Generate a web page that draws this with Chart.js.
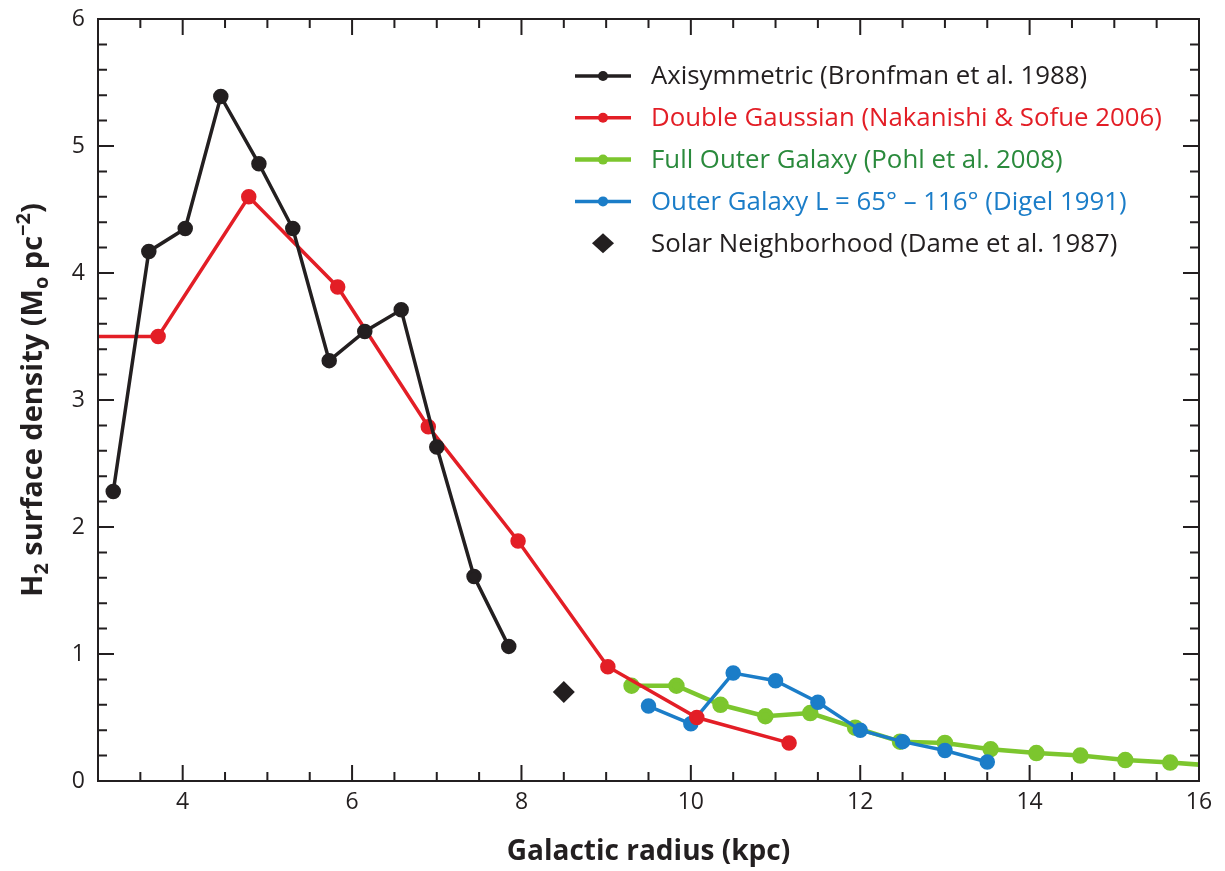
<!DOCTYPE html>
<html>
<head>
<meta charset="utf-8">
<script src="https://cdn.jsdelivr.net/npm/chart.js@4.4.1/dist/chart.umd.min.js"></script>
<style>
  html, body { margin: 0; padding: 0; background: #fff; }
  #wrap { width: 1225px; height: 871px; }
</style>
</head>
<body>
<div id="wrap"><canvas id="h2Chart" width="1225" height="871"></canvas></div>
<script>
// values: galactic radius (kpc) vs H2 surface density (Msun pc^-2)
const axiR = [3.18, 3.60, 4.03, 4.45, 4.90, 5.30, 5.73, 6.15, 6.58, 7.00, 7.44, 7.85];
const axiSigma = [2.28, 4.17, 4.35, 5.39, 4.86, 4.35, 3.31, 3.54, 3.71, 2.63, 1.61, 1.06];

const gaussR = [2.65, 3.71, 4.78, 5.83, 6.90, 7.96, 9.02, 10.07, 11.16];
const gaussSigma = [3.50, 3.50, 4.60, 3.89, 2.79, 1.89, 0.90, 0.50, 0.30];

const pohlR = [9.30, 9.83, 10.35, 10.88, 11.41, 11.94, 12.47, 13.00, 13.54, 14.08, 14.60, 15.13, 15.66, 16.19];
const pohlSigma = [0.75, 0.75, 0.60, 0.51, 0.535, 0.42, 0.31, 0.30, 0.25, 0.22, 0.20, 0.165, 0.145, 0.12];

const digelR = [9.5, 10.0, 10.5, 11.0, 11.5, 12.0, 12.5, 13.0, 13.5];
const digelSigma = [0.59, 0.45, 0.85, 0.79, 0.62, 0.40, 0.31, 0.24, 0.15];

const solarR = [8.5];
const solarSigma = [0.70];

const xTickLabels = [4, 6, 8, 10, 12, 14, 16];
const yTickLabels = [0, 1, 2, 3, 4, 5, 6];

const seriesNames = [
  'Axisymmetric (Bronfman et al. 1988)',
  'Double Gaussian (Nakanishi & Sofue 2006)',
  'Full Outer Galaxy (Pohl et al. 2008)',
  'Outer Galaxy L = 65\u00b0 \u2013 116\u00b0 (Digel 1991)',
  'Solar Neighborhood (Dame et al. 1987)'
];
const lineColors = ['#231f20', '#e31e26', '#7cc62e', '#1b7dc8', '#231f20'];
const textColors = ['#231f20', '#e31e26', '#2a8a3c', '#1b7dc8', '#231f20'];

const FONT = '"Open Sans", "Noto Sans", sans-serif';
const INK = '#231f20';

function toXY(xs, ys) {
  return xs.map((x, i) => ({ x: x, y: ys[i] }));
}

// frame + inward ticks on all four sides, like the printed figure
const frameTicks = {
  id: 'frameTicks',
  afterDatasetsDraw(chart) {
    const { ctx, chartArea: a, scales: { x, y } } = chart;
    ctx.save();
    ctx.strokeStyle = INK;
    ctx.lineWidth = 2;
    ctx.strokeRect(a.left, a.top, a.right - a.left, a.bottom - a.top);
    ctx.beginPath();
    for (let v = x.min; v <= x.max + 1e-6; v += 0.5) {
      const px = x.getPixelForValue(v);
      const len = (Math.abs(v % 2) < 1e-6) ? 16 : 9;
      ctx.moveTo(px, a.bottom); ctx.lineTo(px, a.bottom - len);
      ctx.moveTo(px, a.top); ctx.lineTo(px, a.top + len);
    }
    for (let v = y.min; v <= y.max + 1e-6; v += 0.2) {
      const py = y.getPixelForValue(v);
      const len = (Math.abs(v - Math.round(v)) < 1e-6) ? 16 : 9;
      ctx.moveTo(a.left, py); ctx.lineTo(a.left + len, py);
      ctx.moveTo(a.right, py); ctx.lineTo(a.right - len, py);
    }
    ctx.stroke();
    ctx.restore();
  }
};

// legend inside the plot, top right
const insideLegend = {
  id: 'insideLegend',
  afterDraw(chart) {
    const ctx = chart.ctx;
    const x0 = 575, x1 = 631, tx = 651, top = 76, step = 41.8;
    ctx.save();
    ctx.font = '25.8px ' + FONT;
    ctx.textBaseline = 'middle';
    seriesNames.forEach((name, i) => {
      const yy = top + i * step;
      const cx = (x0 + x1) / 2;
      if (i < 4) {
        ctx.strokeStyle = lineColors[i];
        ctx.lineWidth = i === 2 ? 4.5 : 3.5;
        ctx.beginPath(); ctx.moveTo(x0, yy); ctx.lineTo(x1, yy); ctx.stroke();
        ctx.fillStyle = lineColors[i];
        ctx.beginPath(); ctx.arc(cx, yy, 5, 0, Math.PI * 2); ctx.fill();
      } else {
        ctx.fillStyle = lineColors[i];
        ctx.beginPath();
        ctx.moveTo(cx, yy - 10); ctx.lineTo(cx + 11, yy); ctx.lineTo(cx, yy + 10); ctx.lineTo(cx - 11, yy);
        ctx.closePath(); ctx.fill();
      }
      ctx.fillStyle = textColors[i];
      ctx.fillText(name, tx, yy + 1);
    });
    ctx.restore();
  }
};

// rotated y title with sub/superscripts
const yTitle = {
  id: 'yTitle',
  afterDraw(chart) {
    const ctx = chart.ctx;
    const a = chart.chartArea;
    const parts = [
      ['H', 0], ['2', 1], [' surface density (M', 0], ['o', 1], [' pc', 0], ['\u22122', -1], [')', 0]
    ];
    const big = 'bold 29px ' + FONT, small = 'bold 20px ' + FONT;
    ctx.save();
    let total = 0;
    parts.forEach(p => { ctx.font = p[1] ? small : big; total += ctx.measureText(p[0]).width; });
    ctx.translate(42, (a.top + a.bottom) / 2);
    ctx.rotate(-Math.PI / 2);
    ctx.fillStyle = INK;
    ctx.textBaseline = 'alphabetic';
    let cur = -total / 2;
    parts.forEach(p => {
      ctx.font = p[1] ? small : big;
      const dy = p[1] === 1 ? 6 : (p[1] === -1 ? -12 : 0);
      ctx.fillText(p[0], cur, dy);
      cur += ctx.measureText(p[0]).width;
    });
    ctx.restore();
  }
};

const ctx = document.getElementById('h2Chart').getContext('2d');
const h2Chart = new Chart(ctx, {
  type: 'scatter',
  data: {
    datasets: [
      {
        label: seriesNames[0],
        data: toXY(axiR, axiSigma),
        showLine: true,
        borderColor: lineColors[0],
        backgroundColor: lineColors[0],
        borderWidth: 3.5,
        pointRadius: 6,
        order: 1
      },
      {
        label: seriesNames[1],
        data: toXY(gaussR, gaussSigma),
        showLine: true,
        borderColor: lineColors[1],
        backgroundColor: lineColors[1],
        borderWidth: 3.5,
        pointRadius: gaussR.map(r => r < 3 ? 0 : 6),
        order: 2
      },
      {
        label: seriesNames[2],
        data: toXY(pohlR, pohlSigma),
        showLine: true,
        borderColor: lineColors[2],
        backgroundColor: lineColors[2],
        borderWidth: 4.5,
        pointRadius: 6,
        order: 4
      },
      {
        label: seriesNames[3],
        data: toXY(digelR, digelSigma),
        showLine: true,
        borderColor: lineColors[3],
        backgroundColor: lineColors[3],
        borderWidth: 3.5,
        pointRadius: 6,
        order: 3
      },
      {
        label: seriesNames[4],
        data: toXY(solarR, solarSigma),
        showLine: false,
        pointStyle: 'rectRot',
        borderColor: lineColors[4],
        backgroundColor: lineColors[4],
        pointRadius: 11,
        borderWidth: 0,
        order: 0
      }
    ]
  },
  options: {
    responsive: false,
    animation: false,
    layout: { padding: { top: 19, right: 26, left: 0, bottom: 0 } },
    plugins: {
      legend: { display: false },
      tooltip: { enabled: false }
    },
    scales: {
      x: {
        type: 'linear',
        min: 3,
        max: 16,
        afterBuildTicks: s => { s.ticks = xTickLabels.map(v => ({ value: v })); },
        afterFit: s => { s.height = 90; s.paddingLeft = 0; s.paddingRight = 0; },
        grid: { display: false, drawTicks: false },
        border: { display: false },
        ticks: { color: INK, padding: 8, font: { family: FONT, size: 23 } },
        title: {
          display: true,
          text: 'Galactic radius (kpc)',
          color: INK,
          font: { family: FONT, size: 28, weight: 'bold' },
          padding: { top: 2, bottom: 2 }
        }
      },
      y: {
        min: 0,
        max: 6,
        afterBuildTicks: s => { s.ticks = yTickLabels.map(v => ({ value: v })); },
        afterFit: s => { s.width = 98; s.paddingTop = 0; s.paddingBottom = 0; },
        grid: { display: false, drawTicks: false },
        border: { display: false },
        ticks: { color: INK, padding: 13, font: { family: FONT, size: 23 } }
      }
    }
  },
  plugins: [frameTicks, insideLegend, yTitle]
});
</script>
</body>
</html>
